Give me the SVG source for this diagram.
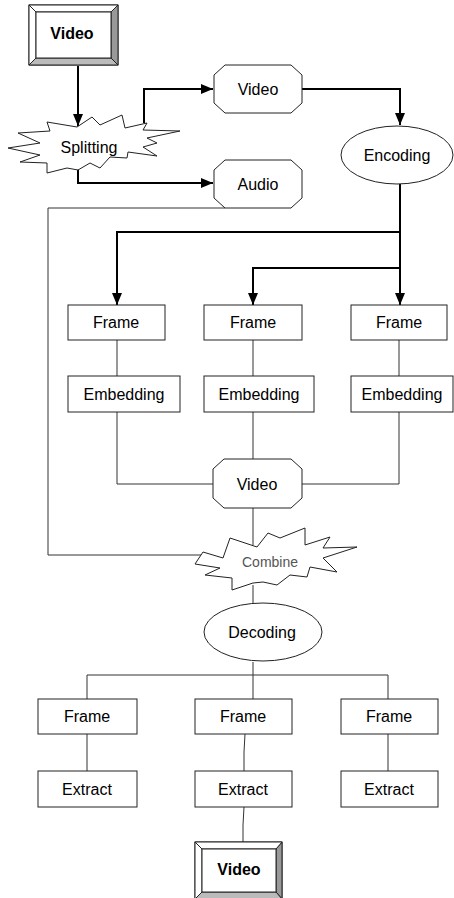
<svg xmlns="http://www.w3.org/2000/svg" width="454" height="898" viewBox="0 0 454 898">
<defs>
<marker id="arr" markerUnits="userSpaceOnUse" markerWidth="12" markerHeight="10" refX="12" refY="5" orient="auto">
<path d="M0,0 L12,5 L0,10 z" fill="#000"/>
</marker>
<style>
text{font-family:"Liberation Sans",Arial,sans-serif;font-size:16px;fill:#000;text-anchor:middle;dominant-baseline:central}
.box{fill:#fff;stroke:#222;stroke-width:1}
.thin{fill:none;stroke:#333;stroke-width:1}
.thick{fill:none;stroke:#000;stroke-width:2}
.bev{stroke:#222;stroke-width:1}
</style>
</defs>
<rect width="454" height="898" fill="#fff"/>
<g id="connectors">
<path class="thick" d="M78,66 V126" marker-end="url(#arr)"/>
<path class="thick" d="M144,123 V89 H213" marker-end="url(#arr)"/>
<path class="thick" d="M78,168 V183 H213" marker-end="url(#arr)"/>
<path class="thick" d="M302,89 H400 V125" marker-end="url(#arr)"/>
<path class="thick" d="M400,184 V305" marker-end="url(#arr)"/>
<path class="thick" d="M400,232 H117 V305" marker-end="url(#arr)"/>
<path class="thick" d="M400,268 H253 V305" marker-end="url(#arr)"/>
<path class="thin" d="M225,208 H48 V555 H210"/>
<path class="thin" d="M117,340 V376 M253,340 V376 M399,340 V376"/>
<path class="thin" d="M117,412 V484 H213 M253,412 V459 M399,412 V484 H302"/>
<path class="thin" d="M253,508 V545 M253,585 V603 M253,662 V675"/>
<path class="thin" d="M87,675 H388 M87,675 V699 M253,675 V699 M388,675 V699"/>
<path class="thin" d="M87,734 V771 M245,734 L244,752 L244,771 M388,734 V771"/>
<path class="thin" d="M244,807 L243,825 L243,842"/>
</g>
<g id="video-in">
<rect x="29" y="5" width="89" height="60" fill="#fff" stroke="#222"/>
<polygon points="111,12 118,5 118,65 111,58" fill="#999" class="bev"/>
<polygon points="36,58 111,58 118,65 29,65" fill="#bbb" class="bev"/>
<polygon points="29,5 36,12 36,58 29,65" fill="#fff" class="bev"/>
<polygon points="29,5 118,5 111,12 36,12" fill="#fff" class="bev"/>
<rect x="36" y="12" width="75" height="46" fill="#fff" stroke="#222"/>
<text x="72" y="33" font-weight="bold">Video</text>
</g>
<g id="splitting">
<polygon class="box" points="8,148 40,143 18,133 50,131 47,122 77,127 92,117 100,125 122,115 125,128 147,123 143,130 180,131 147,138 157,143 143,147 157,156 128,152 127,158 110,157 100,168 90,163 78,170 67,168 47,173 47,163 20,162 40,155"/>
<text x="89" y="147">Splitting</text>
</g>
<g id="video-split">
<polygon class="box" points="225,65 291,65 302,75 302,103 291,113 225,113 214,103 214,75"/>
<text x="258" y="89">Video</text>
</g>
<g id="audio">
<polygon class="box" points="225,160 291,160 302,170 302,198 291,208 225,208 214,198 214,170"/>
<text x="258" y="184">Audio</text>
</g>
<g id="encoding">
<ellipse class="box" cx="397" cy="155" rx="56" ry="29"/>
<text x="397" y="155">Encoding</text>
</g>
<g id="frame1"><rect class="box" x="68" y="305" width="97" height="35"/><text x="116" y="322">Frame</text></g>
<g id="frame2"><rect class="box" x="204" y="305" width="98" height="35"/><text x="253" y="322">Frame</text></g>
<g id="frame3"><rect class="box" x="351" y="305" width="96" height="35"/><text x="399" y="322">Frame</text></g>
<g id="embed1"><rect class="box" x="68" y="376" width="112" height="36"/><text x="124" y="394">Embedding</text></g>
<g id="embed2"><rect class="box" x="204" y="376" width="110" height="36"/><text x="259" y="394">Embedding</text></g>
<g id="embed3"><rect class="box" x="351" y="376" width="102" height="36"/><text x="402" y="394">Embedding</text></g>
<g id="video-mid">
<polygon class="box" points="224,459 291,459 302,469 302,498 291,508 224,508 213,498 213,469"/>
<text x="257" y="484">Video</text>
</g>
<g id="combine">
<polygon class="box" points="203,552 223,558 230,538 257,547 268,533 280,538 305,528 305,545 330,537 323,548 357,547 323,558 337,572 310,567 307,577 290,575 277,585 263,582 253,583 232,590 232,578 205,575 220,568 195,564"/>
<text x="270" y="562" style="font-size:14px;fill:#555">Combine</text>
</g>
<g id="decoding">
<ellipse class="box" cx="263" cy="632" rx="59" ry="29"/>
<text x="262" y="632">Decoding</text>
</g>
<g id="frame4"><rect class="box" x="38" y="699" width="99" height="35"/><text x="87" y="716">Frame</text></g>
<g id="frame5"><rect class="box" x="195" y="699" width="97" height="35"/><text x="243" y="716">Frame</text></g>
<g id="frame6"><rect class="box" x="341" y="699" width="97" height="35"/><text x="389" y="716">Frame</text></g>
<g id="extract1"><rect class="box" x="38" y="771" width="99" height="36"/><text x="87" y="789">Extract</text></g>
<g id="extract2"><rect class="box" x="195" y="771" width="97" height="36"/><text x="243" y="789">Extract</text></g>
<g id="extract3"><rect class="box" x="341" y="771" width="97" height="36"/><text x="389" y="789">Extract</text></g>
<g id="video-out">
<rect x="195" y="842" width="87" height="57" fill="#fff" stroke="#222"/>
<polygon points="276,849 282,842 282,899 276,892" fill="#999" class="bev"/>
<polygon points="202,892 276,892 282,899 195,899" fill="#bbb" class="bev"/>
<polygon points="195,842 202,849 202,892 195,899" fill="#fff" class="bev"/>
<polygon points="195,842 282,842 276,849 202,849" fill="#fff" class="bev"/>
<rect x="202" y="849" width="74" height="43" fill="#fff" stroke="#222"/>
<text x="239" y="869" font-weight="bold">Video</text>
</g>
</svg>
